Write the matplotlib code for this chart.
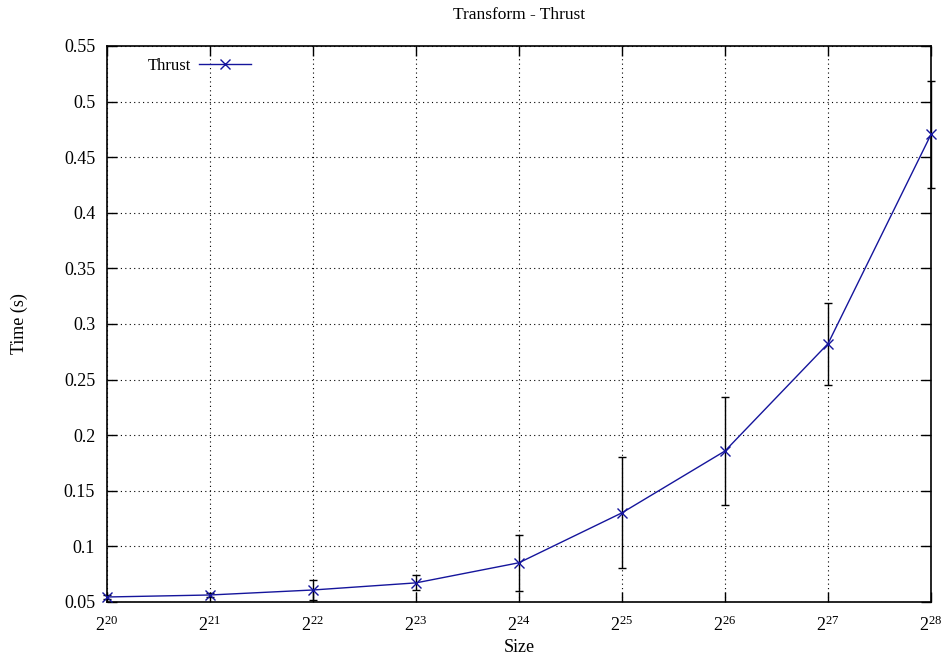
import matplotlib

matplotlib.use("Agg")
import matplotlib.pyplot as plt
from matplotlib.ticker import FixedLocator, FuncFormatter, NullLocator

plt.rcParams.update({"font.family": ["Liberation Serif", "DejaVu Serif"],
                     "font.size": 12})

# benchmark timings (mean and std deviation), problem size = 2^exp
exps = [20, 21, 22, 23, 24, 25, 26, 27, 28]
time_mean = [0.0545, 0.0563, 0.0608, 0.0672, 0.0853, 0.1302, 0.1858, 0.2823, 0.4705]
time_err = [0.0020, 0.0020, 0.0088, 0.0068, 0.0252, 0.0500, 0.0488, 0.0370, 0.0480]
yticks = [0.05, 0.1, 0.15, 0.2, 0.25, 0.3, 0.35, 0.4, 0.45, 0.5, 0.55]

sizes = [2 ** e for e in exps]

fig = plt.figure(figsize=(9.45, 6.59), dpi=100)
ax = fig.add_axes([0.1132, 0.0865, 0.8720, 0.8437])

ax.errorbar(sizes, time_mean, yerr=time_err, fmt="none", ecolor="black",
            elinewidth=1.0, capsize=3, capthick=1.0, clip_on=False, zorder=3)
ax.plot(sizes, time_mean, color="#15159c", lw=1.0, marker="x", ms=7, mew=1.0,
        label="Thrust", clip_on=False, zorder=4)

ax.set_xscale("log", base=2)
ax.set_xlim(2 ** 20, 2 ** 28)
ax.set_ylim(0.05, 0.55)
ax.xaxis.set_major_locator(FixedLocator(sizes))
ax.xaxis.set_minor_locator(NullLocator())
ax.set_xticklabels([r"$\mathregular{2^{%d}}$" % e for e in exps])
ax.set_yticks(yticks)
ax.yaxis.set_major_formatter(FuncFormatter(lambda v, _: f"{v:g}"))

ax.tick_params(direction="in", length=7, width=1.0, top=True, right=True)
ax.tick_params(axis="y", pad=8.5, labelsize=13)
ax.tick_params(axis="x", pad=9.5, labelsize=13)
ax.grid(True, color="black", ls=(0, (1, 3)), lw=0.8)
for s in ax.spines.values():
    s.set_linewidth(1.2)

ax.set_title("Transform - Thrust", fontsize=12.5, y=1.034)
ax.set_xlabel("Size", fontsize=13)
ax.set_ylabel("Time (s)", fontsize=13)
ax.xaxis.set_label_coords(0.5, -0.066)
ax.yaxis.set_label_coords(-0.096, 0.5)

ax.legend(loc="upper left", frameon=False, markerfirst=False, fontsize=12,
          handlelength=3.1, handletextpad=0.5, borderaxespad=0.3,
          bbox_to_anchor=(0.035, 1.0))

fig.savefig("out.png", dpi=100)
